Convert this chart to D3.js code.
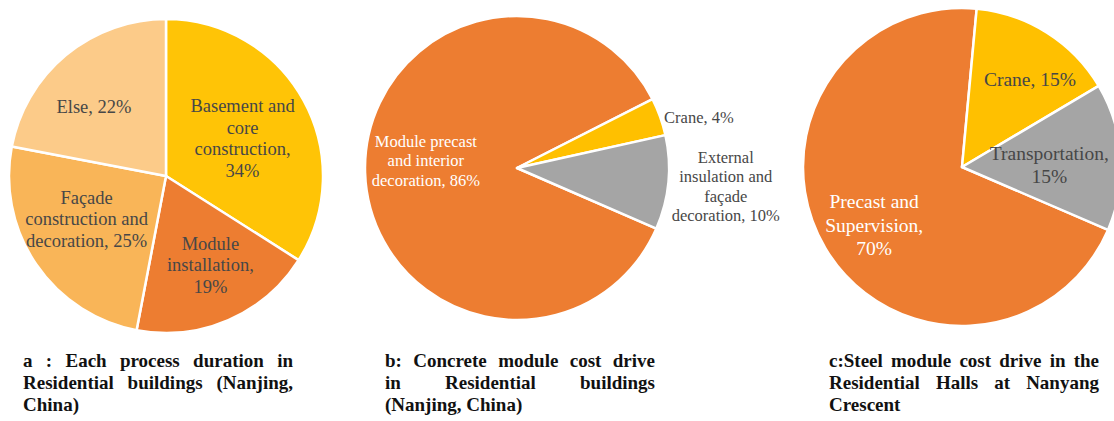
<!DOCTYPE html>
<html>
<head>
<meta charset="utf-8">
<script src="https://cdn.jsdelivr.net/npm/d3@7"></script>
<style>
  body { margin: 0; background: #fff; }
  svg { display: block; }
</style>
</head>
<body>
<div id="chart"></div>
<script>
// ---- data ----
const catsA = ["Basement and core construction", "Module installation", "Façade construction and decoration", "Else"];
const valsA = [34, 19, 25, 22];
const colorsA = ["#FFC406", "#ED7D31", "#F9B558", "#FCCB89"];

const catsB = ["Module precast and interior decoration", "Crane", "External insulation and façade decoration"];
const valsB = [86, 4, 10];

const catsC = ["Precast and Supervision", "Crane", "Transportation"];
const valsC = [70, 15, 15];
const colorsBC = ["#ED7D31", "#FFC000", "#A5A5A5"];

const captionA = ["a :  Each process duration in", "Residential buildings (Nanjing,", "China)"];
const captionB = ["b: Concrete module cost drive", "in Residential buildings", "(Nanjing, China)"];
const captionC = ["c:Steel module cost drive in the", "Residential Halls at Nanyang", "Crescent"];

// ---- layout ----
const W = 1114, H = 421;
const svg = d3.select("#chart").append("svg")
    .attr("width", W)
    .attr("height", H);

const deg = Math.PI / 180;

function measure(txt, size, weight) {
    const t = svg.append("text")
        .style("font-family", "'Liberation Serif', 'Times New Roman', serif")
        .style("font-size", size + "px")
        .style("font-weight", weight)
        .text(txt);
    const w = t.node().getComputedTextLength();
    t.remove();
    return w;
}

function wrap(txt, width, size) {
    const words = txt.split(" ");
    const lines = [];
    let cur = words[0];
    for (let i = 1; i < words.length; i++) {
        const test = cur + " " + words[i];
        if (measure(test, size, "normal") > width) {
            lines.push(cur);
            cur = words[i];
        } else {
            cur = test;
        }
    }
    lines.push(cur);
    return lines;
}

function pieChart(opt, cats, vals, colors) {
    const g = svg.append("g")
        .attr("transform", `translate(${opt.cx}, ${opt.cy})`);

    const pie = d3.pie().sort(null).value(d => d)
        .startAngle(opt.start)
        .endAngle(opt.start + 2 * Math.PI);
    const arcs = pie(vals);
    const arc = d3.arc().innerRadius(0).outerRadius(opt.r);

    g.selectAll("path")
        .data(arcs)
        .enter()
        .append("path")
        .attr("d", arc)
        .style("fill", (d, i) => colors[i])
        .style("stroke", "#ffffff")
        .style("stroke-width", 2.5)
        .style("stroke-linejoin", "round");

    arcs.forEach((d, i) => {
        const lr = opt.r * opt.labelR[i];
        const pt = d3.arc().innerRadius(lr).outerRadius(lr).centroid(d);
        const x = pt[0] + opt.nudge[i][0];
        const y = pt[1] + opt.nudge[i][1];
        const lines = wrap(`${cats[i]}, ${vals[i]}%`, opt.wrap[i], opt.fs);
        const t = g.append("text")
            .attr("text-anchor", opt.anchor[i])
            .style("font-family", "'Liberation Serif', 'Times New Roman', serif")
            .style("font-size", opt.fs + "px")
            .style("fill", opt.fill[i]);
        lines.forEach((ln, k) => {
            t.append("tspan")
                .attr("x", x)
                .attr("y", y + (k - (lines.length - 1) / 2) * opt.lh + opt.fs * 0.33)
                .text(ln);
        });
    });
}

function caption(lines, left, width) {
    const fs = 19, lh = 22, top = 367;
    lines.forEach((ln, k) => {
        const y = top + k * lh;
        const words = ln.split(/\s+/);
        const last = k === lines.length - 1;
        if (last || words.length < 2) {
            svg.append("text")
                .attr("x", left).attr("y", y)
                .style("font-family", "'Liberation Serif', 'Times New Roman', serif")
                .style("font-size", fs + "px")
                .style("font-weight", "bold")
                .style("fill", "#111")
                .text(ln);
            return;
        }
        const widths = words.map(w => measure(w, fs, "bold"));
        const gap = (width - d3.sum(widths)) / (words.length - 1);
        let x = left;
        words.forEach((w, j) => {
            svg.append("text")
                .attr("x", x).attr("y", y)
                .style("font-family", "'Liberation Serif', 'Times New Roman', serif")
                .style("font-size", fs + "px")
                .style("font-weight", "bold")
                .style("fill", "#111")
                .text(w);
            x += widths[j] + gap;
        });
    });
}

pieChart({
    cx: 166, cy: 176, r: 157, start: 0,
    fs: 18.5, lh: 21.5,
    labelR: [0.6, 0.6, 0.6, 0.6],
    nudge: [[-6, 8], [7, 2.5], [-1.5, -10], [-12, 3]],
    wrap: [115, 110, 128, 110],
    anchor: ["middle", "middle", "middle", "middle"],
    fill: ["#474747", "#474747", "#474747", "#474747"]
}, catsA, valsA, colorsA);

pieChart({
    cx: 517, cy: 168, r: 152, start: 113.5 * deg,
    fs: 16.5, lh: 19.5,
    labelR: [0.6, 1.0, 1.38],
    nudge: [[0, -10], [4, 1], [0, -1.5]],
    wrap: [115, 115, 115],
    anchor: ["middle", "start", "middle"],
    fill: ["#ffffff", "#474747", "#474747"]
}, catsB, valsB, colorsBC);

pieChart({
    cx: 962, cy: 167, r: 159, start: 113.3 * deg,
    fs: 19.5, lh: 23.5,
    labelR: [0.65, 0.7, 0.55],
    nudge: [[1, 5.7], [8.5, 6.4], [0, 3.6]],
    wrap: [125, 125, 125],
    anchor: ["middle", "middle", "middle"],
    fill: ["#ffffff", "#474747", "#474747"]
}, catsC, valsC, colorsBC);

caption(captionA, 23, 270);
caption(captionB, 385, 270);
caption(captionC, 829, 270);
</script>
</body>
</html>
